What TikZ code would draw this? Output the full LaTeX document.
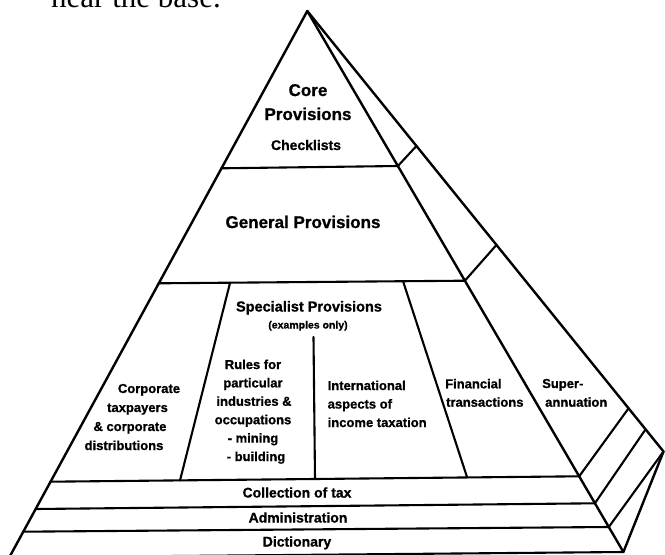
\documentclass[tikz,border=0pt]{standalone}
\usepackage{fontspec}
\setmainfont{Liberation Sans}[BoldFeatures={FakeBold=0.9}]
\newfontfamily\bookserif{Liberation Serif}
\begin{document}
\begin{tikzpicture}[x=1pt,y=-1pt,
  edge/.style={line width=2.4pt, line cap=round, line join=round},
  thin/.style={line width=2.1pt, line cap=round},
  txt/.style={inner sep=0pt, anchor=base, font=\bfseries\fontsize{13}{15}\selectfont},
  txtl/.style={txt, anchor=base west},
  big/.style={txt, font=\bfseries\fontsize{17}{20}\selectfont},
  mid/.style={txt, font=\bfseries\fontsize{14}{16}\selectfont},
  tinytxt/.style={txt, font=\bfseries\fontsize{10.5}{12}\selectfont},
  rowtxt/.style={txt, font=\bfseries\fontsize{14}{16}\selectfont}]
\useasboundingbox (0,0) rectangle (665,555);
\clip (0,0) rectangle (665,555);
\fill[white] (0,0) rectangle (665,555);

% heading text of the page (cut at top)
\node[inner sep=0pt, anchor=base west, font=\bookserif\fontsize{31}{34}\selectfont] (head) at (51,7.5) {near the base.};

% main vertices
\coordinate (A) at (307.3,11);
\coordinate (BL) at (2.4,570);
\coordinate (BI) at (623.4,552);
\coordinate (OC) at (663.5,451.5);
% left edge points
\coordinate (L1) at (221.2,168.3);
\coordinate (L2) at (158.5,283.3);
\coordinate (L3) at (50.2,481.7);
\coordinate (L4) at (35.3,509);
\coordinate (L5) at (23,531.7);
\coordinate (L6) at (8.9,557.5);
% inner edge points
\coordinate (I1) at (397.9,166);
\coordinate (I2) at (464.9,280.7);
\coordinate (I3) at (579.2,476.3);
\coordinate (I4) at (594.9,503.3);
\coordinate (I5) at (608.8,527);
% outer edge points
\coordinate (O1) at (416.4,146);
\coordinate (O2) at (496.4,245);
\coordinate (O3) at (628.6,408.3);
\coordinate (O4) at (645.6,429.3);
% divider ends
\coordinate (D1a) at (230,283);
\coordinate (D1b) at (180,480.5);
\coordinate (D2a) at (313.5,337);
\coordinate (D2b) at (315,478.5);
\coordinate (D3a) at (403.3,282);
\coordinate (D3b) at (467,477);

% outline
\draw[edge] (BL) -- (A) -- (BI);
\draw[edge] (A) -- (OC) -- (BI);
% horizontal levels
\draw[thin] (L1) -- (I1);
\draw[thin] (L2) -- (I2);
\draw[thin] (L3) -- (I3);
\draw[thin] (L4) -- (I4);
\draw[thin] (L5) -- (I5);
\draw[thin] (L6) -- (BI);
% right face cross lines
\draw[thin] (I1) -- (O1);
\draw[thin] (I2) -- (O2);
\draw[thin] (I3) -- (O3);
\draw[thin] (I4) -- (O4);
\draw[thin] (I5) -- (OC);
% dividers in specialist level
\draw[thin] (D1a) -- (D1b);
\draw[thin] (D2a) -- (D2b);
\draw[thin] (D3a) -- (D3b);

% texts
\node[big] (core1) at (308,96) {Core};
\node[big] (core2) at (308,120) {Provisions};
\node[mid] (check) at (306,150) {Checklists};
\node[big] (gen) at (303,228) {General Provisions};
\node[mid, font=\bfseries\fontsize{14.5}{16}\selectfont] (spec) at (309,311.5) {Specialist Provisions};
\node[tinytxt] (ex) at (308,328.5) {(examples only)};

\node[txt] (c1) at (149,393) {Corporate};
\node[txt] (c2) at (137.5,412) {taxpayers};
\node[txt] (c3) at (130,431) {\& corporate};
\node[txt] (c4) at (124,450) {distributions};

\node[txt] (r1) at (253,369) {Rules for};
\node[txt] (r2) at (253,387.4) {particular};
\node[txt] (r3) at (254,405.8) {industries \&};
\node[txt] (r4) at (253,424.2) {occupations};
\node[txt] (r5) at (253,442.6) {- mining};
\node[txt] (r6) at (256,461) {- building};

\node[txtl] (i1) at (327.5,390) {International};
\node[txtl] (i2) at (327.5,408.5) {aspects of};
\node[txtl] (i3) at (327.5,427) {income taxation};

\node[txtl] (f1) at (445,388.3) {Financial};
\node[txtl] (f2) at (446,406.7) {transactions};

\node[txtl] (s1) at (542,388) {Super-};
\node[txtl] (s2) at (545,406.7) {annuation};

\node[rowtxt] (coll) at (297,497.5) {Collection of tax};
\node[rowtxt] (adm) at (298,522.5) {Administration};
\node[rowtxt] (dict) at (297,546.5) {Dictionary};
\end{tikzpicture}
\end{document}
